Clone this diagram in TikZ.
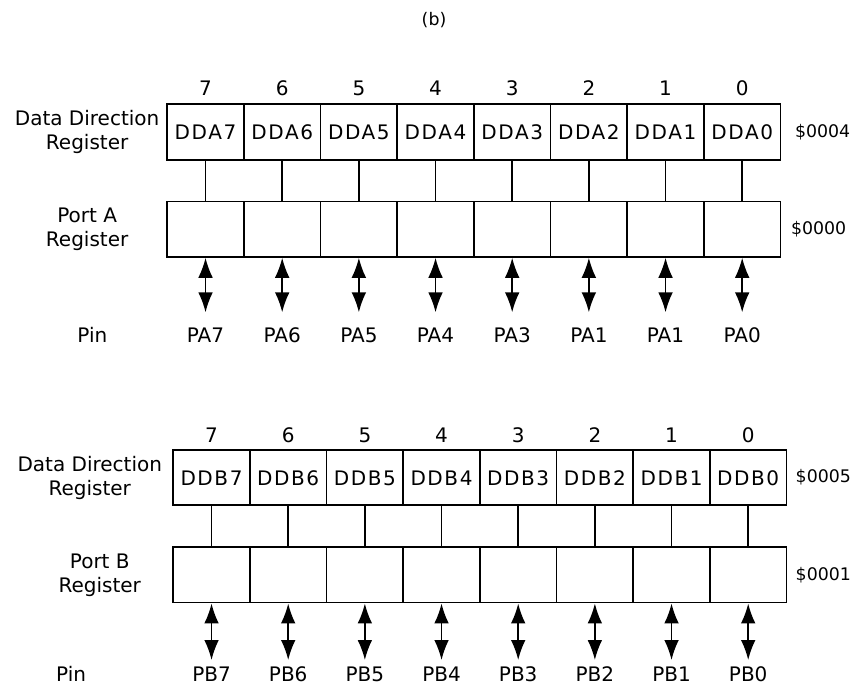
\documentclass[tikz,border=0pt]{standalone}
\usepackage{fontspec}
\setmainfont{DejaVu Sans}
\newfontfamily\cellfont[LetterSpace=8]{DejaVu Sans}
\usepackage{tikz}
\usetikzlibrary{matrix,arrows.meta,positioning}

\begin{document}
\begin{tikzpicture}[
    x=0.75pt, y=-0.75pt,
    font=\fontsize{15}{18}\selectfont,
    reg/.style={matrix of nodes, nodes in empty cells, inner sep=0pt, anchor=north west,
        nodes={draw, line width=1.4pt, minimum width=57.5pt, minimum height=41.5pt, inner sep=0pt, text height=11pt, text depth=0pt, anchor=center, font=\fontsize{15}{18}\selectfont\cellfont},
        column sep=-1.4pt, row sep=-1.4pt,
        row 1/.style={nodes={draw=none, minimum height=0pt, font=\fontsize{15}{18}\selectfont}},
        row 4/.style={nodes={draw=none, minimum height=0pt, font=\fontsize{15}{18}\selectfont}}},
    lbl/.style={align=center, inner sep=0pt},
    addr/.style={inner sep=0pt, font=\fontsize{13}{16}\selectfont},
    wire/.style={line width=1.2pt},
    io/.style={{Latex[length=15pt,width=11pt]}-{Latex[length=15pt,width=11pt]}, line width=1.2pt, shorten >=#1}
]
\useasboundingbox (0,0) rectangle (853,695);

\node[font=\fontsize{13}{15}\selectfont] (fig) at (434,20) {(b)};

% Port A: data direction register over the port register
\matrix [reg] (grpa) at (166,81) {
    7 & 6 & 5 & 4 & 3 & 2 & 1 & 0 \\[7pt]
    DDA7 & DDA6 & DDA5 & DDA4 & DDA3 & DDA2 & DDA1 & DDA0 \\[31.4pt]
     & & & & & & & \\[54pt]
    PA7 & PA6 & PA5 & PA4 & PA3 & PA1 & PA1 & PA0 \\
};

\node[lbl, left=5pt of grpa-2-1] (ddrlbla) {Data Direction\\Register};
\node[lbl] (portlbla) at (ddrlbla |- grpa-3-1) {Port A\\Register};
\node[lbl, left=44pt of grpa-4-1] (pinlbla) {Pin};
\node[addr, right=10pt of grpa-2-8] (addrdda) {\$0004};
\node[addr, right=7pt of grpa-3-8] (addrpa) {\$0000};

% DDR bit to port bit, port bit to pin
\draw[wire] (grpa-2-1) -- (grpa-3-1); \draw[io=11pt] (grpa-3-1) -- (grpa-4-1);
\draw[wire] (grpa-2-2) -- (grpa-3-2); \draw[io=11pt] (grpa-3-2) -- (grpa-4-2);
\draw[wire] (grpa-2-3) -- (grpa-3-3); \draw[io=11pt] (grpa-3-3) -- (grpa-4-3);
\draw[wire] (grpa-2-4) -- (grpa-3-4); \draw[io=11pt] (grpa-3-4) -- (grpa-4-4);
\draw[wire] (grpa-2-5) -- (grpa-3-5); \draw[io=11pt] (grpa-3-5) -- (grpa-4-5);
\draw[wire] (grpa-2-6) -- (grpa-3-6); \draw[io=11pt] (grpa-3-6) -- (grpa-4-6);
\draw[wire] (grpa-2-7) -- (grpa-3-7); \draw[io=11pt] (grpa-3-7) -- (grpa-4-7);
\draw[wire] (grpa-2-8) -- (grpa-3-8); \draw[io=11pt] (grpa-3-8) -- (grpa-4-8);

% Port B: same layout
\matrix [reg] (grpb) at (172,428) {
    7 & 6 & 5 & 4 & 3 & 2 & 1 & 0 \\[6pt]
    DDB7 & DDB6 & DDB5 & DDB4 & DDB3 & DDB2 & DDB1 & DDB0 \\[31.4pt]
     & & & & & & & \\[49pt]
    PB7 & PB6 & PB5 & PB4 & PB3 & PB2 & PB1 & PB0 \\
};

\node[lbl, left=7.5pt of grpb-2-1] (ddrlblb) {Data Direction\\Register};
\node[lbl, xshift=7.5pt] (portlblb) at (ddrlblb |- grpb-3-1) {Port B\\Register};
\node[lbl, left=64.5pt of grpb-4-1] (pinlblb) {Pin};
\node[addr, right=6pt of grpb-2-8] (addrddb) {\$0005};
\node[addr, right=6pt of grpb-3-8] (addrpb) {\$0001};

\draw[wire] (grpb-2-1) -- (grpb-3-1); \draw[io=4.5pt] (grpb-3-1) -- (grpb-4-1);
\draw[wire] (grpb-2-2) -- (grpb-3-2); \draw[io=4.5pt] (grpb-3-2) -- (grpb-4-2);
\draw[wire] (grpb-2-3) -- (grpb-3-3); \draw[io=4.5pt] (grpb-3-3) -- (grpb-4-3);
\draw[wire] (grpb-2-4) -- (grpb-3-4); \draw[io=4.5pt] (grpb-3-4) -- (grpb-4-4);
\draw[wire] (grpb-2-5) -- (grpb-3-5); \draw[io=4.5pt] (grpb-3-5) -- (grpb-4-5);
\draw[wire] (grpb-2-6) -- (grpb-3-6); \draw[io=4.5pt] (grpb-3-6) -- (grpb-4-6);
\draw[wire] (grpb-2-7) -- (grpb-3-7); \draw[io=4.5pt] (grpb-3-7) -- (grpb-4-7);
\draw[wire] (grpb-2-8) -- (grpb-3-8); \draw[io=4.5pt] (grpb-3-8) -- (grpb-4-8);

\end{tikzpicture}
\end{document}
